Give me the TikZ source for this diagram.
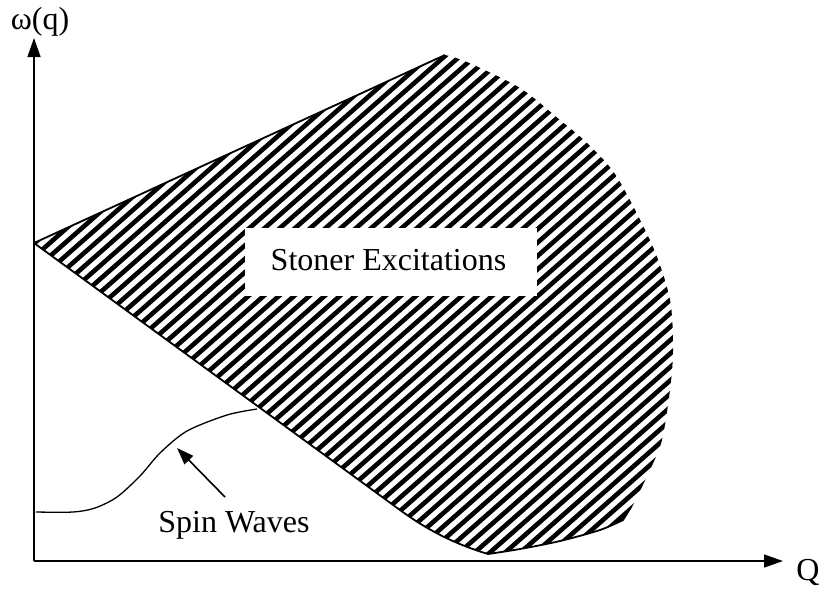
\documentclass[tikz,border=0pt]{standalone}
\usepackage{fontspec}
\setmainfont{Liberation Serif}
\usetikzlibrary{arrows.meta}
\begin{document}
\begin{tikzpicture}[x=1pt,y=-1pt,
  axis/.style={line width=1.4pt,-{Triangle[length=19pt,width=13pt]}},
  bound/.style={line width=1.8pt,line join=round},
  hatch/.style={line width=4.6pt},
  wave/.style={line width=1.3pt},
  pointer/.style={line width=1.6pt,-{Triangle[length=17pt,width=12pt]}},
  lbl/.style={font=\fontsize{32}{38}\selectfont,inner sep=0pt,anchor=base}]
\useasboundingbox (0,0) rectangle (821,590);
% hatched region
\begin{scope}
\clip (34,243) -- (445,55)
  -- plot[smooth] coordinates {(445,55) (467,62) (520,88) (560,120) (587,143) (617,177) (653,247) (670,300) (673,350) (670,390) (662,440) (650,470) (632,507)}
  -- (623,520)
  -- plot[smooth] coordinates {(623,520) (600,530) (560,541) (520,549) (488,554)}
  .. controls (458,545) and (430,532) .. (400,510) -- cycle;
\foreach \c in {260,273.4,...,1090} \draw[hatch] (0,\c) -- (700,\c-616);
\end{scope}
% outline
\draw[bound] (445,55) -- (34,243) -- (400,510) .. controls (430,532) and (458,545) .. (488,554)
  -- plot[smooth] coordinates {(488,554) (520,549) (560,541) (600,530) (623,520)} -- (631,507);
% label box
\fill[white] (245,228) rectangle (537,296);
\node[lbl] (stoner) at (388.5,270) {Stoner Excitations};
% axes
\coordinate (O) at (34,561);
\coordinate (ytip) at (34,38);
\coordinate (xtip) at (783,561);
\draw[axis] (O) -- (ytip);
\draw[axis] (O) -- (xtip);
\node[lbl] (wq) at (40,29) {ω(q)};
\node[lbl] (Q) at (808,580) {Q};
% spin wave curve
\draw[wave] plot[smooth] coordinates {(36,512) (73,512) (95,508) (117,497) (140,476) (160,453) (187,431) (227,415) (257,409)};
% spin waves label and pointer
\node[lbl] (spin) at (234,532) {Spin Waves};
\coordinate (ps) at (225,497);
\coordinate (pe) at (177,448);
\draw[pointer] (ps) -- (pe);
\end{tikzpicture}
\end{document}
